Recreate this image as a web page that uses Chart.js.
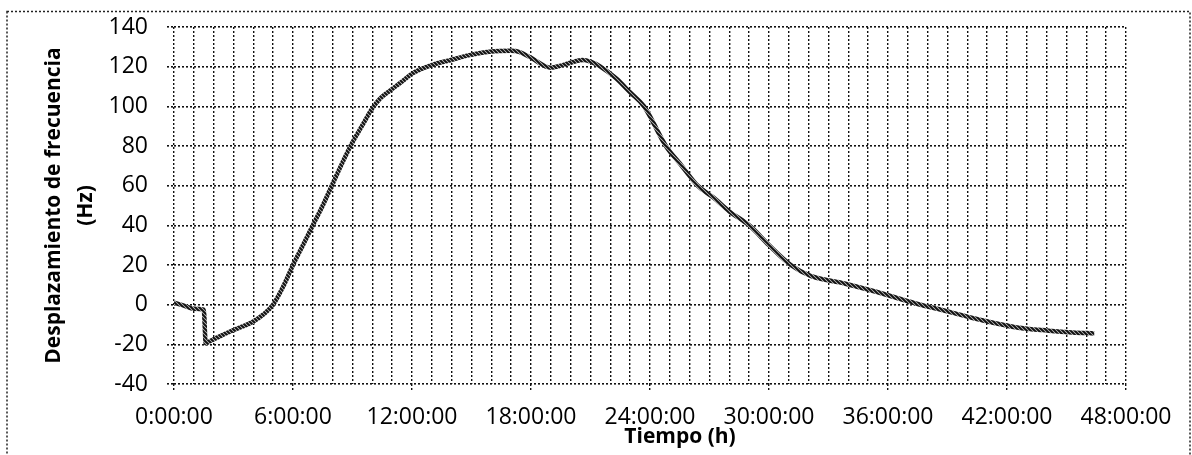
<!DOCTYPE html>
<html>
<head>
<meta charset="utf-8">
<script src="https://cdn.jsdelivr.net/npm/chart.js@4/dist/chart.umd.min.js"></script>
<style>
  body { margin: 0; background: #fff; }
  #wrap { position: relative; width: 1192px; height: 455px; }
</style>
</head>
<body>
<div id="wrap"><canvas id="shiftChart"></canvas></div>
<script>
// Time in hours and frequency shift (Hz)
const hours = [0, 0.5, 1, 1.5, 1.6, 1.8, 2.2, 3, 4, 4.5, 5, 5.5, 6, 6.5, 7, 7.5, 8, 8.9,
  9.5, 10, 10.4, 10.9, 11.5, 12, 13, 14, 14.9, 15.9, 17, 17.4, 18, 19, 19.5, 20, 20.6, 21, 21.5, 22.3, 23, 23.7,
  24.8, 25.6, 26.4, 27.2, 28, 29, 30, 31.1, 32.1, 33.8, 35.4, 37.4, 39.1, 40.8, 42.5,
  44.1, 45.3, 46.4];
const shiftHz = [1, -0.5, -2, -2.5, -19.5, -18.5, -16.5, -12.8, -8.5, -5, 0, 9, 20, 30, 40, 50, 61, 80,
  90.5, 99, 104, 108, 112.5, 116.5, 120.8, 123.5, 125.8, 127.5, 128, 127.5, 124.5, 119.5, 120.5, 122, 123.3, 122.5, 120, 114, 107, 100,
  80, 70, 60, 54, 47, 40, 30, 20, 14.5, 10.7, 6.5, 0.6, -3.6, -8, -11.5,
  -13.1, -14, -14.5];
const yTicks = [-40, -20, 0, 20, 40, 60, 80, 100, 120, 140];
const xLabelStep = 6; // hours between labelled ticks

const points = hours.map((h, i) => ({ x: h, y: shiftHz[i] }));

// hatched stroke like the printed line
function hatchPattern() {
  const c = document.createElement('canvas');
  c.width = 4; c.height = 4;
  const g = c.getContext('2d');
  g.fillStyle = '#c8c8c8';
  g.fillRect(0, 0, 4, 4);
  g.strokeStyle = '#111';
  g.lineWidth = 2;
  g.beginPath();
  g.moveTo(-1, -1); g.lineTo(5, 5);
  g.moveTo(-3, 1); g.lineTo(1, 5);
  g.moveTo(3, -1); g.lineTo(5, 1);
  g.stroke();
  return g.createPattern(c, 'repeat');
}

const dots = [2, 2];

// dotted outer frame and the x title placed like the original
const framePlugin = {
  id: 'frame',
  beforeDraw(chart) {
    const ctx = chart.ctx;
    ctx.save();
    ctx.strokeStyle = '#222';
    ctx.lineWidth = 1.5;
    ctx.setLineDash([2, 2]);
    ctx.strokeRect(7, 11.5, 1183, 470);
    ctx.restore();
  },
  afterDraw(chart) {
    const ctx = chart.ctx;
    const area = chart.chartArea;
    ctx.save();
    ctx.font = 'bold 21px "Open Sans"';
    ctx.fillStyle = '#000';
    ctx.textAlign = 'center';
    ctx.textBaseline = 'middle';
    ctx.fillText('Tiempo (h)', (area.left + area.right) / 2 + 30, 437);
    ctx.restore();
  }
};

const ctx = document.getElementById('shiftChart').getContext('2d');
new Chart(ctx, {
  type: 'line',
  data: {
    datasets: [{
      data: points,
      borderColor: hatchPattern(),
      borderWidth: 4.5,
      pointRadius: 0,
      fill: false,
      cubicInterpolationMode: 'monotone'
    }]
  },
  options: {
    responsive: true,
    maintainAspectRatio: false,
    animation: false,
    layout: { padding: { top: 27, right: 66, bottom: 0, left: 0 } },
    plugins: {
      legend: { display: false },
      tooltip: { enabled: false }
    },
    scales: {
      x: {
        type: 'linear',
        min: 0,
        max: 48,
        afterFit: scale => { scale.height = 71; },
        ticks: {
          stepSize: 1,
          autoSkip: false,
          maxRotation: 0,
          minRotation: 0,
          padding: 12,
          color: '#000',
          font: { family: 'Open Sans', size: 23 },
          callback: v => (v % xLabelStep === 0 ? v + ':00:00' : '')
        },
        grid: {
          color: '#111',
          lineWidth: 1.4,
          tickLength: 8,
          tickColor: c => (c.tick && c.tick.value % xLabelStep === 0 ? '#111' : 'rgba(0,0,0,0)'),
          tickBorderDash: dots
        },
        border: { display: false, dash: dots }
      },
      y: {
        min: -40,
        max: 140,
        afterFit: scale => {
          scale.width = 174;
          // label padding is horizontal here, don't let it push the plot down
          scale.paddingTop = 14;
          scale.paddingBottom = 14;
        },
        afterBuildTicks: scale => { scale.ticks = yTicks.map(v => ({ value: v })); },
        ticks: {
          padding: 19,
          color: '#000',
          font: { family: 'Open Sans', size: 23 }
        },
        grid: {
          color: '#111',
          lineWidth: 1.6,
          tickLength: 7,
          tickColor: '#111',
          tickBorderDash: dots
        },
        border: { display: false, dash: dots },
        title: {
          display: true,
          text: ['Desplazamiento de frecuencia', '(Hz)'],
          color: '#000',
          font: { family: 'Open Sans', size: 21, weight: 'bold', lineHeight: 1.52 },
          padding: { top: 38, bottom: 0 }
        }
      }
    }
  },
  plugins: [framePlugin]
});
</script>
</body>
</html>
